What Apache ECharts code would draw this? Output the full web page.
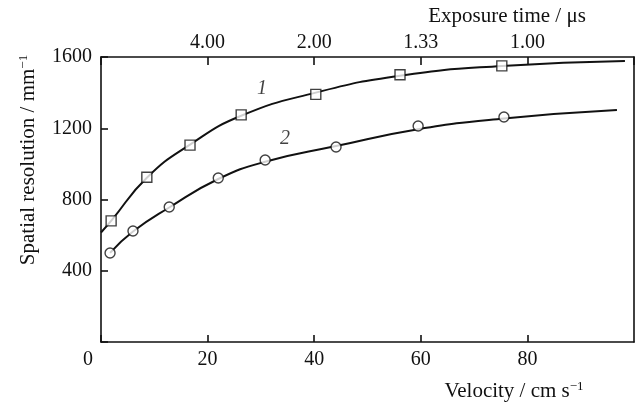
<!DOCTYPE html>
<html>
<head>
<meta charset="utf-8">
<script src="https://cdn.jsdelivr.net/npm/echarts@6/dist/echarts.min.js"></script>
<style>
  html, body { margin: 0; padding: 0; background: #fff; }
  #chart { width: 639px; height: 407px; }
</style>
</head>
<body>
<div id="chart"></div>
<script>
// Measured points, curve 1 (squares): velocity in cm/s, resolution in mm^-1
const velocity1 = [1.9, 8.6, 16.7, 26.3, 40.3, 56.1, 75.2];
const resolution1 = [680, 925, 1105, 1275, 1390, 1500, 1550];

// Measured points, curve 2 (circles)
const velocity2 = [1.7, 6.0, 12.8, 22.0, 30.8, 44.1, 59.5, 75.6];
const resolution2 = [500, 623, 758, 921, 1022, 1095, 1213, 1263];

// Fitted curves through the measurements
const fitVelocity1 = [0, 1.9, 8.6, 16.7, 26.3, 40.3, 56.1, 75.2, 98.3];
const fitResolution1 = [615, 680, 922, 1108, 1270, 1400, 1495, 1550, 1578];
const fitVelocity2 = [1.7, 6.0, 12.8, 22.0, 30.8, 44.1, 59.5, 75.6, 96.8];
const fitResolution2 = [500, 620, 755, 915, 1012, 1100, 1195, 1255, 1302];

// Curve labels: [velocity, resolution, text]
const curveLabels = [[30.2, 1424, '1'], [34.5, 1143, '2']];

// Tick labels
const velocityTicks = [0, 20, 40, 60, 80];
const resolutionTicks = [400, 800, 1200, 1600];
const exposureTickPositions = [20, 40, 60, 80];
const exposureTickLabels = ['4.00', '2.00', '1.33', '1.00'];

const FONT = '"Liberation Serif", "DejaVu Serif", serif';
const INK = '#111';
const FS = 20;
const TITLE_FS = 21;

const zip = (xs, ys) => xs.map((x, i) => [x, ys[i]]);

const chart = echarts.init(document.getElementById('chart'), null, { renderer: 'canvas' });

const axisLineStyle = { show: true, onZero: false, lineStyle: { color: INK, width: 1.6 } };

chart.setOption({
  animation: false,
  backgroundColor: '#fff',
  grid: { left: 101, right: 5, top: 57, bottom: 65, show: false },
  xAxis: [
    {
      type: 'value', position: 'bottom', min: 0, max: 100, interval: 20,
      axisLine: axisLineStyle,
      axisTick: { show: true, inside: true, length: 7, lineStyle: { color: INK, width: 1.6 } },
      splitLine: { show: false },
      axisLabel: {
        margin: 8, color: INK, fontFamily: FONT, fontSize: FS,
        showMaxLabel: false,
        formatter: v => {
          if (velocityTicks.indexOf(v) < 0) return '';
          return v === 0 ? '{o|0}' : String(v);
        },
        rich: { o: { fontFamily: FONT, fontSize: FS, color: INK, padding: [0, 26, 0, 0] } }
      }
    },
    {
      type: 'value', position: 'top', min: 0, max: 100, interval: 20,
      axisLine: axisLineStyle,
      axisTick: { show: true, inside: true, length: 8, lineStyle: { color: INK, width: 1.6 } },
      splitLine: { show: false },
      axisLabel: {
        margin: 4, color: INK, fontFamily: FONT, fontSize: FS,
        formatter: v => {
          const i = exposureTickPositions.indexOf(v);
          return i < 0 ? '' : exposureTickLabels[i];
        }
      }
    }
  ],
  yAxis: [
    {
      type: 'value', position: 'left', min: 0, max: 1600, interval: 400,
      axisLine: axisLineStyle,
      axisTick: { show: true, inside: true, length: 7, lineStyle: { color: INK, width: 1.6 } },
      splitLine: { show: false },
      axisLabel: {
        margin: 9, color: INK, fontFamily: FONT, fontSize: FS,
        formatter: v => resolutionTicks.indexOf(v) < 0 ? '' : String(v)
      }
    },
    {
      type: 'value', position: 'right', min: 0, max: 1600, interval: 400,
      axisLine: axisLineStyle,
      axisTick: { show: false },
      axisLabel: { show: false },
      splitLine: { show: false }
    }
  ],
  graphic: [
    {
      type: 'text', x: 507, y: 16,
      style: {
        text: 'Exposure time / μs', font: TITLE_FS + 'px ' + FONT, fill: INK,
        align: 'center', verticalAlign: 'middle'
      }
    },
    {
      type: 'text', x: 514, y: 391,
      style: {
        text: 'Velocity / cm s{sup|−1}', font: TITLE_FS + 'px ' + FONT, fill: INK,
        align: 'center', verticalAlign: 'middle',
        rich: { sup: { fontSize: 13, fontFamily: FONT, fill: INK, verticalAlign: 'top' } }
      }
    },
    {
      type: 'text', x: 28, y: 160, rotation: Math.PI / 2,
      style: {
        text: 'Spatial resolution / mm{sup|−1}', font: TITLE_FS + 'px ' + FONT, fill: INK,
        align: 'center', verticalAlign: 'middle',
        rich: { sup: { fontSize: 13, fontFamily: FONT, fill: INK, verticalAlign: 'top' } }
      }
    }
  ],
  series: [
    {
      type: 'line', data: zip(fitVelocity1, fitResolution1), smooth: 0.5,
      showSymbol: false, lineStyle: { color: INK, width: 2 }, z: 2
    },
    {
      type: 'line', data: zip(fitVelocity2, fitResolution2), smooth: 0.5,
      showSymbol: false, lineStyle: { color: INK, width: 2 }, z: 2
    },
    {
      type: 'scatter', data: zip(velocity1, resolution1), symbol: 'rect', symbolSize: 10,
      itemStyle: { color: '#fff', borderColor: INK, borderWidth: 1.4 }, z: 3
    },
    {
      type: 'scatter', data: zip(velocity2, resolution2), symbol: 'circle', symbolSize: 10,
      itemStyle: { color: '#fff', borderColor: INK, borderWidth: 1.4 }, z: 3
    },
    {
      type: 'scatter', data: curveLabels.map(d => ({ value: [d[0], d[1]], name: d[2] })),
      symbolSize: 0, silent: true,
      label: {
        show: true, position: 'inside', formatter: p => p.name,
        fontFamily: FONT, fontSize: FS, fontStyle: 'italic', color: INK
      }
    }
  ]
});
</script>
</body>
</html>
